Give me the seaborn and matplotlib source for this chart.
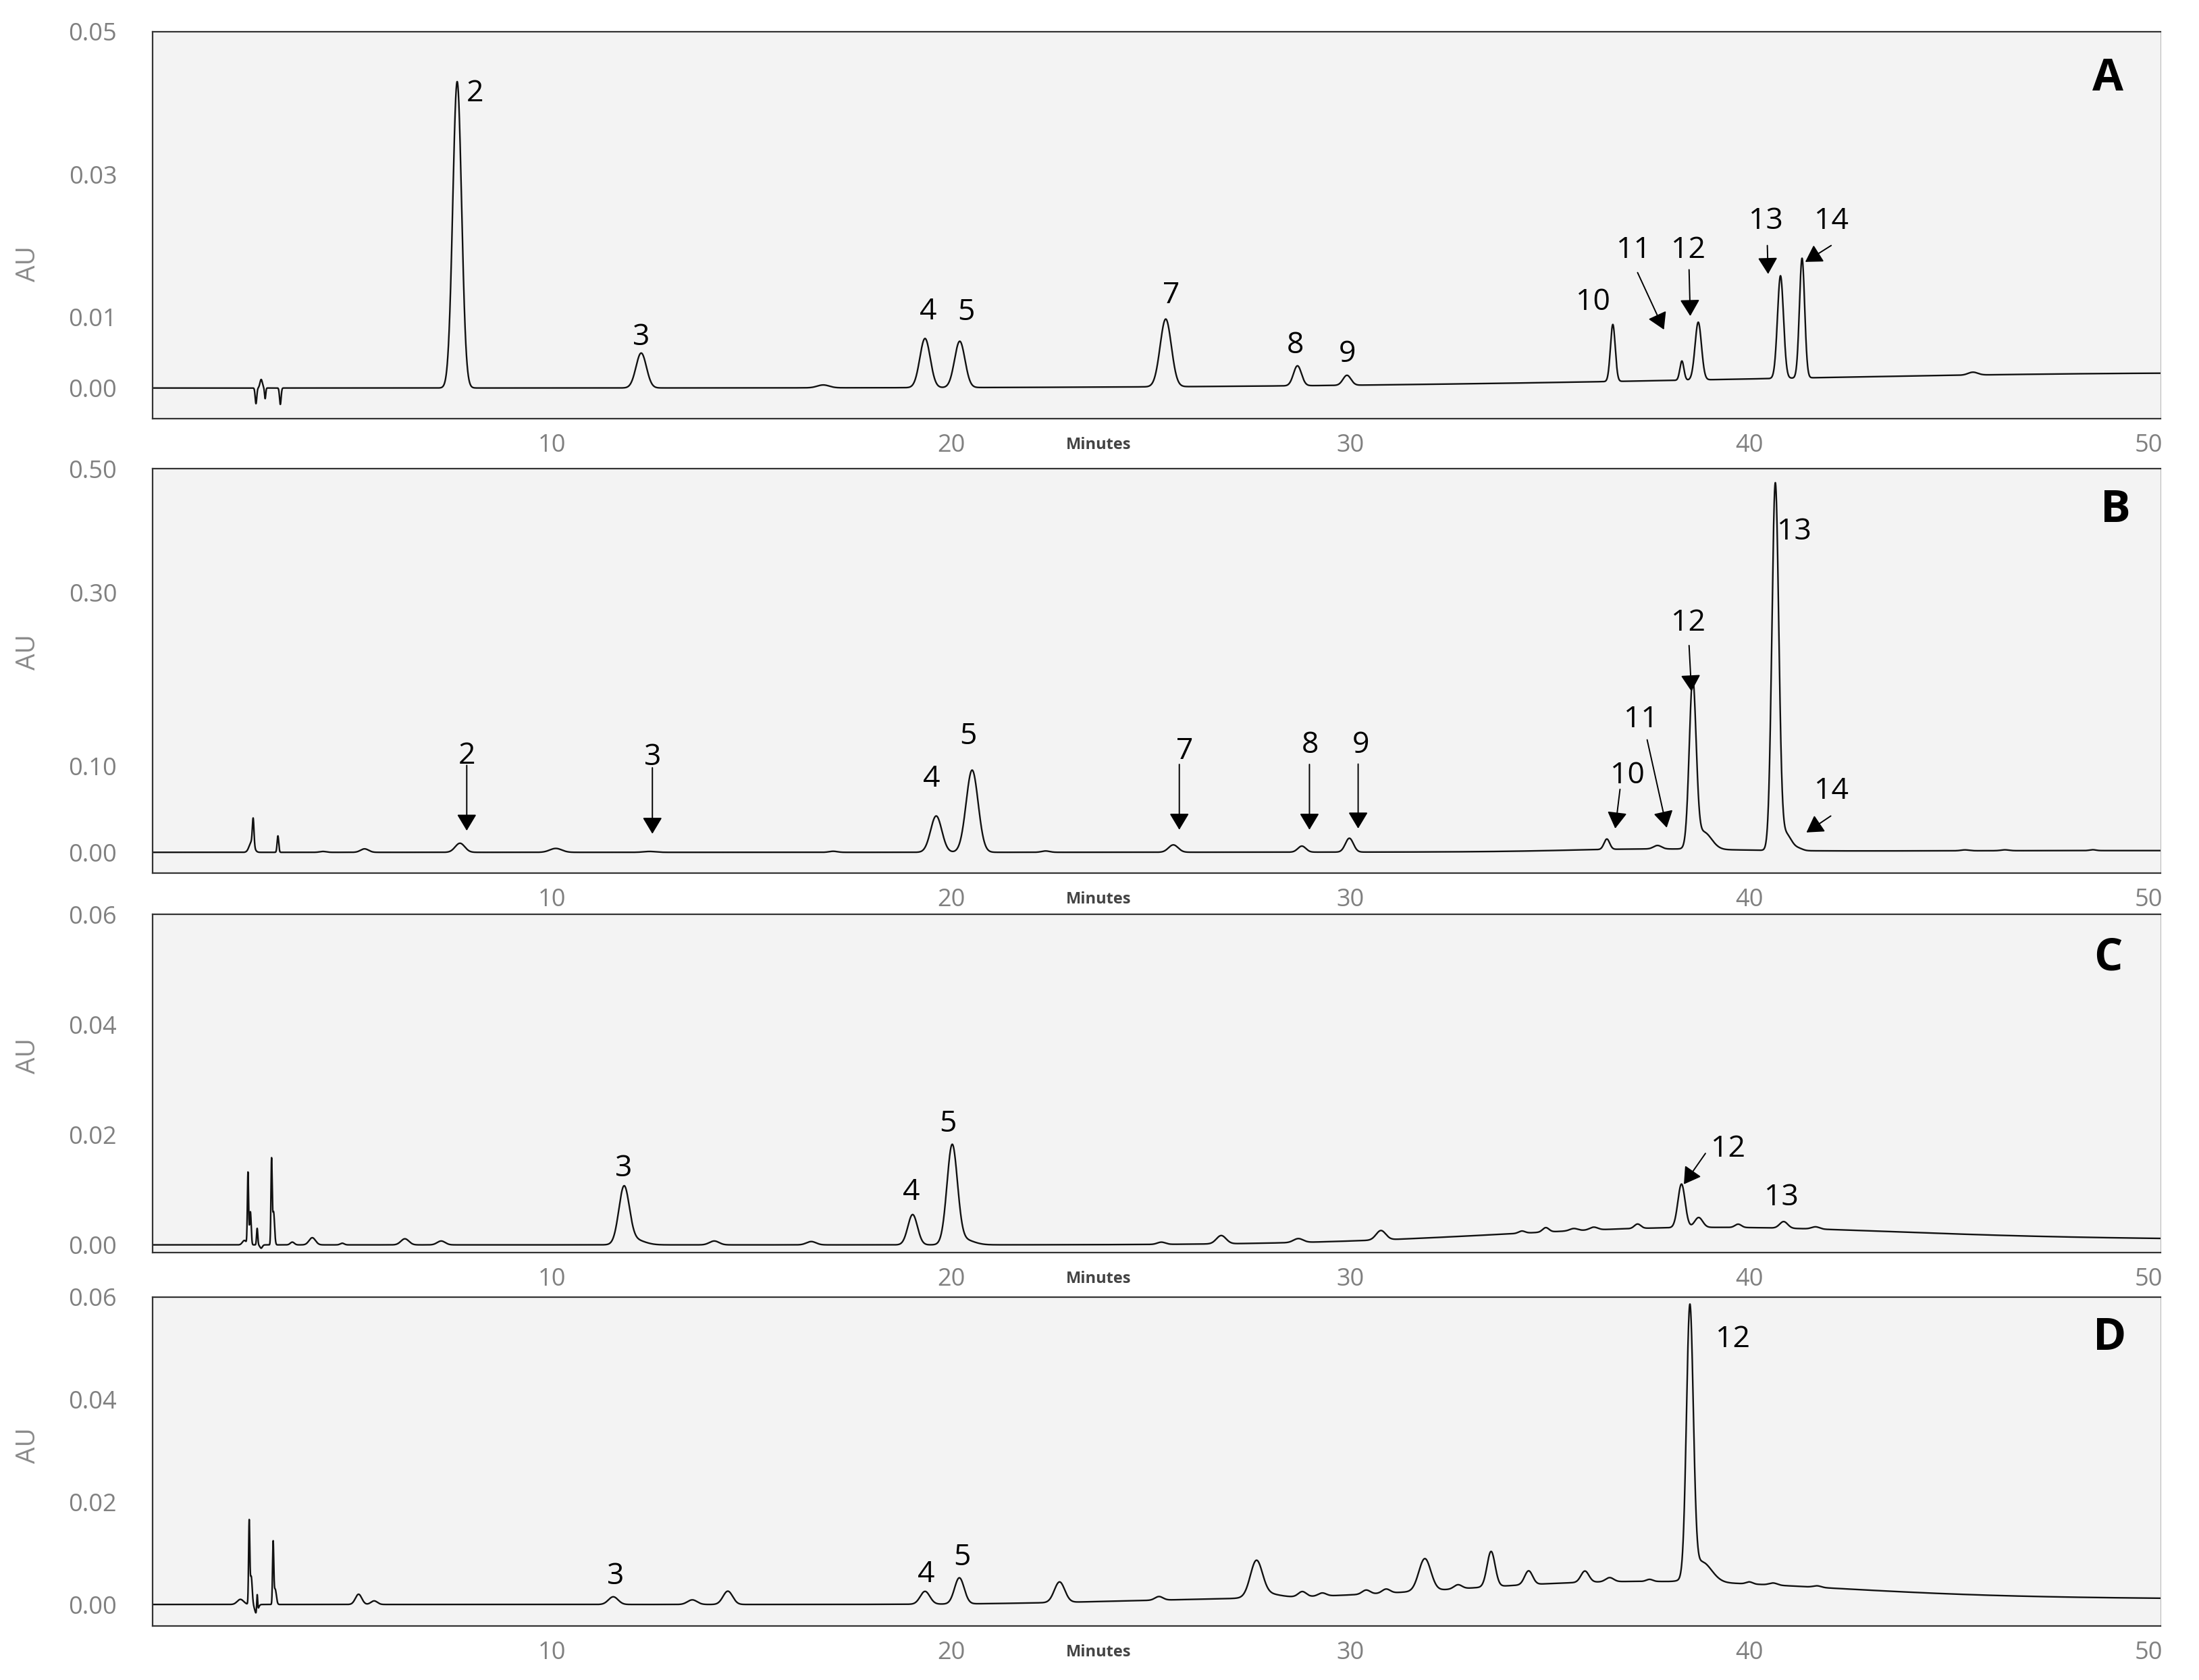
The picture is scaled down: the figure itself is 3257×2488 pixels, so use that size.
import numpy as np
import matplotlib
matplotlib.use("Agg")
import matplotlib.pyplot as plt
import seaborn as sns
from matplotlib.ticker import MultipleLocator, FixedLocator

sns.set_style("white")
plt.rcParams["font.family"] = ["Open Sans", "DejaVu Sans"]

# peaks: (retention time min, height AU, sigma min)
PEAKS_A = [
    (2.59, -0.0022, 0.02), (2.72, 0.0012, 0.03), (2.82, -0.0015, 0.015), (3.20, -0.0023, 0.02),
    (7.63, 0.0430, 0.11), (12.24, 0.0049, 0.13), (16.8, 0.0004, 0.15),
    (19.35, 0.0069, 0.13), (20.22, 0.0065, 0.13), (25.38, 0.0095, 0.14),
    (28.68, 0.0028, 0.10), (29.92, 0.0014, 0.10), (36.58, 0.0080, 0.06),
    (38.31, 0.0027, 0.05), (38.72, 0.0081, 0.08), (40.78, 0.0144, 0.075),
    (41.32, 0.0168, 0.065), (45.6, 0.0004, 0.12),
]
BASE_A = [(52.0, 0.0021, 12.0)]

PEAKS_B = [
    (2.48, 0.012, 0.06), (2.52, 0.030, 0.02), (3.14, 0.019, 0.02), (4.27, 0.001, 0.08),
    (5.31, 0.004, 0.10), (7.70, 0.0105, 0.12), (10.1, 0.0045, 0.15), (12.45, 0.001, 0.15),
    (17.05, 0.0012, 0.10), (19.63, 0.042, 0.14), (20.53, 0.095, 0.15), (22.37, 0.0015, 0.10),
    (25.57, 0.0085, 0.12), (28.79, 0.0070, 0.10), (29.98, 0.016, 0.10), (36.43, 0.012, 0.07),
    (37.70, 0.004, 0.10), (38.58, 0.190, 0.085), (38.85, 0.020, 0.20), (40.65, 0.420, 0.085),
    (40.90, 0.020, 0.15), (41.25, 0.002, 0.10), (45.4, 0.001, 0.10), (46.4, 0.001, 0.10),
    (48.6, 0.001, 0.08),
]
BASE_B = [(50.0, 0.002, 10.0), (37.5, 0.003, 2.0)]

PEAKS_C = [
    (2.30, 0.0008, 0.05), (2.39, 0.0130, 0.015), (2.45, 0.0060, 0.02), (2.62, 0.0030, 0.015),
    (2.72, -0.0006, 0.03), (2.98, 0.0150, 0.015), (3.03, 0.0060, 0.025), (3.50, 0.0005, 0.05),
    (4.00, 0.0013, 0.08), (4.75, 0.0003, 0.05), (6.32, 0.0011, 0.10), (7.23, 0.0007, 0.10),
    (11.81, 0.0101, 0.13), (12.05, 0.0010, 0.25), (14.07, 0.0007, 0.12), (16.5, 0.0006, 0.12),
    (19.04, 0.0055, 0.12), (20.03, 0.0177, 0.13), (20.30, 0.0010, 0.25), (25.27, 0.0004, 0.10),
    (26.77, 0.0015, 0.12), (28.7, 0.0007, 0.12), (30.77, 0.0017, 0.12), (34.3, 0.0004, 0.08),
    (34.9, 0.0008, 0.08), (35.6, 0.0004, 0.10), (36.1, 0.0005, 0.10), (37.2, 0.0008, 0.08),
    (38.30, 0.0079, 0.09), (38.73, 0.0018, 0.10), (39.72, 0.0006, 0.08), (40.86, 0.0012, 0.10),
    (41.66, 0.0004, 0.10),
]
BASE_C = [(38.5, 0.0028, 5.0), (50.0, 0.0010, 8.0)]

PEAKS_D = [
    (2.20, 0.0010, 0.08), (2.42, 0.0158, 0.015), (2.47, 0.0055, 0.025), (2.60, -0.0018, 0.04),
    (2.62, 0.0035, 0.012), (3.02, 0.0117, 0.015), (3.07, 0.0030, 0.03), (5.16, 0.0020, 0.08),
    (5.55, 0.0007, 0.08), (11.54, 0.0015, 0.12), (13.52, 0.0009, 0.12), (14.41, 0.0026, 0.12),
    (19.35, 0.0025, 0.12), (20.21, 0.0051, 0.12), (22.72, 0.0040, 0.13), (25.21, 0.0007, 0.10),
    (27.65, 0.0068, 0.15), (27.9, 0.0008, 0.3), (28.8, 0.0010, 0.10), (29.3, 0.0006, 0.10),
    (30.4, 0.0008, 0.10), (30.9, 0.0008, 0.10), (31.87, 0.0063, 0.15), (32.7, 0.0008, 0.10),
    (33.53, 0.0069, 0.10), (34.47, 0.0027, 0.10), (35.88, 0.0022, 0.10), (36.5, 0.0008, 0.10),
    (37.5, 0.0004, 0.08), (38.51, 0.0522, 0.085), (38.80, 0.0040, 0.25), (40.0, 0.0004, 0.08),
    (40.6, 0.0004, 0.10), (41.7, 0.0003, 0.10),
]
BASE_D = [(37.0, 0.0042, 5.0), (50.0, 0.0011, 8.0), (26.0, 0.0006, 3.0)]

# peak number labels (text, time, AU) and arrows (from time, from AU, to time, to AU)
LABELS_A = [("2", 8.07, 0.0413), ("3", 12.24, 0.0071), ("4", 19.43, 0.0107), ("5", 20.38, 0.0106),
            ("7", 25.52, 0.0130), ("8", 28.63, 0.0060), ("9", 29.92, 0.0047), ("10", 36.09, 0.0120),
            ("11", 37.10, 0.0193), ("12", 38.47, 0.0193), ("13", 40.42, 0.0234), ("14", 42.05, 0.0234)]
ARROWS_A = [(37.2, 0.0162, 37.86, 0.0082), (38.49, 0.0166, 38.52, 0.0101),
            (40.45, 0.0200, 40.47, 0.0160), (42.05, 0.0200, 41.40, 0.0177)]

LABELS_B = [("2", 7.87, 0.111), ("3", 12.52, 0.110), ("4", 19.51, 0.085), ("5", 20.43, 0.134),
            ("7", 25.86, 0.117), ("8", 28.99, 0.124), ("9", 30.26, 0.124), ("10", 36.95, 0.0885),
            ("11", 37.29, 0.153), ("12", 38.47, 0.2646), ("13", 41.12, 0.370), ("14", 42.06, 0.071)]
ARROWS_B = [(7.87, 0.1005, 7.87, 0.025), (12.52, 0.0977, 12.52, 0.0214), (25.72, 0.1016, 25.72, 0.0261),
            (28.98, 0.1016, 28.98, 0.0261), (30.20, 0.1020, 30.20, 0.0275), (36.76, 0.0728, 36.64, 0.0275),
            (37.44, 0.130, 37.93, 0.0285), (38.49, 0.239, 38.55, 0.186), (42.04, 0.042, 41.43, 0.023)]

LABELS_C = [("3", 11.80, 0.0138), ("4", 19.00, 0.0095), ("5", 19.92, 0.0219),
            ("12", 39.47, 0.0174), ("13", 40.81, 0.0085)]
ARROWS_C = [(38.90, 0.0166, 38.36, 0.0110)]

LABELS_D = [("3", 11.60, 0.0055), ("4", 19.37, 0.0058), ("5", 20.28, 0.0091), ("12", 39.59, 0.0517)]
ARROWS_D = []

PANEL_LETTERS = [("A", 48.98, 0.0434), ("B", 49.17, 0.3958), ("C", 48.98, 0.0520), ("D", 49.03, 0.0520)]

# axis settings
YLIMS = [(-0.0043, 0.05), (-0.024, 0.4434), (-0.0014, 0.06), (-0.0042, 0.06)]
YTICKS = [[0.0, 0.01, 0.02, 0.03, 0.04, 0.05],
          [0.0, 0.05, 0.10, 0.15, 0.20, 0.25, 0.30, 0.35, 0.40, 0.4434],
          [0.0, 0.01, 0.02, 0.03, 0.04, 0.05, 0.06],
          [0.0, 0.01, 0.02, 0.03, 0.04, 0.05, 0.06]]
YTICKLABELS = [["0.00", "0.01", "", "0.03", "", "0.05"],
               ["0.00", "", "0.10", "", "", "", "0.30", "", "", "0.50"],
               ["0.00", "", "0.02", "", "0.04", "", "0.06"],
               ["0.00", "", "0.02", "", "0.04", "", "0.06"]]
YMINOR = [0.002, 0.01, 0.002, 0.002]
AU_Y = [0.40, 0.546, 0.581, 0.55]

W, H = 3257, 2488
# (left, top, right, bottom) in pixels
BOXES = [(226, 47, 3200, 620), (226, 694, 3200, 1293), (226, 1354, 3200, 1855), (226, 1921, 3200, 2408)]


def trace(peaks, t):
    y = np.zeros_like(t)
    for c, h, w in peaks:
        y += h * np.exp(-0.5 * ((t - c) / w) ** 2)
    return y


def main():
    t = np.linspace(0, 50.3, 25001)
    panels = [(PEAKS_A, BASE_A, LABELS_A, ARROWS_A),
              (PEAKS_B, BASE_B, LABELS_B, ARROWS_B),
              (PEAKS_C, BASE_C, LABELS_C, ARROWS_C),
              (PEAKS_D, BASE_D, LABELS_D, ARROWS_D)]

    fig = plt.figure(figsize=(W / 100, H / 100), dpi=100)
    fig.patch.set_facecolor("white")

    for i, (peaks, base, labels, arrows) in enumerate(panels):
        l, tp, r, b = BOXES[i]
        ax = fig.add_axes([l / W, 1 - b / H, (r - l) / W, (b - tp) / H])
        ax.set_facecolor("#f3f3f3")

        y = trace(peaks, t) + trace(base, t)
        sns.lineplot(x=t, y=y, ax=ax, color="#111111", linewidth=1.7,
                     estimator=None, sort=False)

        ax.set_xlim(0, 50.3)
        ax.set_ylim(*YLIMS[i])

        ax.xaxis.set_major_locator(FixedLocator([10, 20, 30, 40, 50]))
        ax.xaxis.set_minor_locator(MultipleLocator(0.5))
        ax.set_xticklabels(["10", "20", "30", "40", "50"])
        ax.yaxis.set_major_locator(FixedLocator(YTICKS[i]))
        ax.set_yticklabels(YTICKLABELS[i])
        ax.yaxis.set_minor_locator(MultipleLocator(YMINOR[i]))

        ax.tick_params(axis="x", which="both", direction="out", length=4.5, width=1,
                       color="#333333", labelsize=26, labelcolor="#808080", pad=11)
        ax.tick_params(axis="y", which="major", direction="out", length=8, width=1,
                       color="#333333", labelsize=26, labelcolor="#808080", pad=30)
        ax.tick_params(axis="y", which="minor", direction="out", length=3, width=1,
                       color="#333333")

        for side in ["top", "bottom", "left"]:
            ax.spines[side].set_color("#333333")
            ax.spines[side].set_linewidth(1.6)
        ax.spines["right"].set_color("#bbbbbb")
        ax.spines["right"].set_linewidth(0.8)

        ax.set_xlabel("")
        ax.set_ylabel("AU", fontsize=28, color="#8a8a8a")
        ax.yaxis.set_label_coords(-0.0555, AU_Y[i])

        ax.annotate("Minutes", xy=(0.471, 0), xycoords="axes fraction",
                    xytext=(0, -28), textcoords="offset points",
                    ha="center", va="center", fontsize=17, fontweight="bold", color="#444444")

        for txt, x, v in labels:
            ax.text(x, v, txt, ha="center", va="center", fontsize=32, color="black")

        for x0, y0, x1, y1 in arrows:
            ax.annotate("", xy=(x1, y1), xytext=(x0, y0),
                        arrowprops=dict(arrowstyle="-|>,head_length=0.75,head_width=0.45",
                                        color="black", lw=1.4, mutation_scale=20,
                                        shrinkA=0, shrinkB=0))

        letter, lx, ly = PANEL_LETTERS[i]
        ax.text(lx, ly, letter, ha="center", va="center", fontsize=48,
                fontweight="bold", color="black")

    fig.savefig("out.png", dpi=100, facecolor="white")


if __name__ == "__main__":
    main()
